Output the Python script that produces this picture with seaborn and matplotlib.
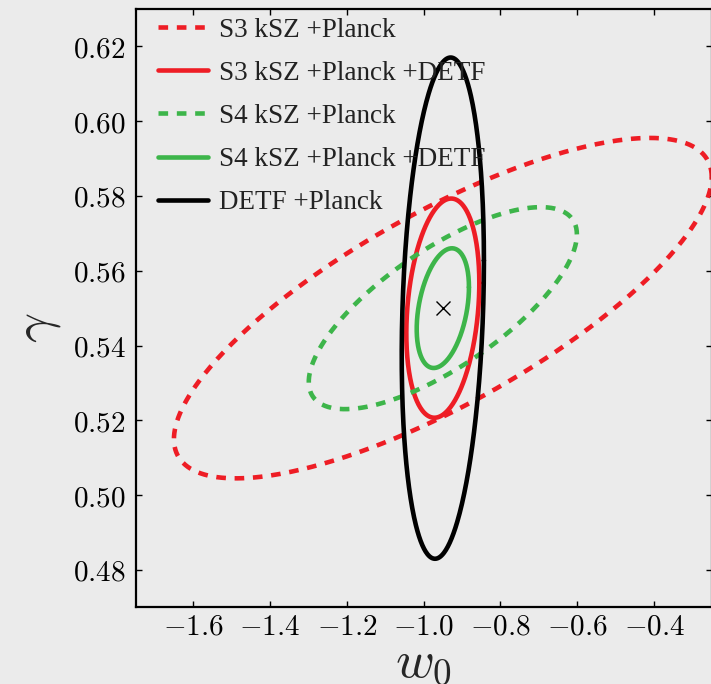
import numpy as np
import pandas as pd
import matplotlib
matplotlib.use("Agg")
import matplotlib.pyplot as plt
from matplotlib.lines import Line2D
from matplotlib.ticker import FuncFormatter, MultipleLocator
import seaborn as sns

# Fiducial model
w0_fid = -0.95
gamma_fid = 0.55

# Forecast contours: half-widths in w0, half-heights in gamma, correlation
labels = ["S3 kSZ +Planck", "S3 kSZ +Planck +DETF", "S4 kSZ +Planck",
          "S4 kSZ +Planck +DETF", "DETF +Planck"]
half_w0 = [0.700, 0.095, 0.349, 0.068, 0.107]
half_gamma = [0.0455, 0.0293, 0.0270, 0.0160, 0.0670]
rho = [0.77, 0.23, 0.73, 0.35, 0.19]

colors = {"S3 kSZ +Planck": "#EE1D25", "S3 kSZ +Planck +DETF": "#EE1D25",
          "S4 kSZ +Planck": "#3DB54A", "S4 kSZ +Planck +DETF": "#3DB54A",
          "DETF +Planck": "#000000"}
dash_pat = (2.1, 1.9)
dashes = {"S3 kSZ +Planck": dash_pat, "S3 kSZ +Planck +DETF": "",
          "S4 kSZ +Planck": dash_pat, "S4 kSZ +Planck +DETF": "",
          "DETF +Planck": ""}

# Build the ellipse outlines
t = np.linspace(0, 2 * np.pi, 400)
frames = []
for lab, a, b, r in zip(labels, half_w0, half_gamma, rho):
    x = w0_fid + a * np.cos(t)
    y = gamma_fid + b * (r * np.cos(t) + np.sqrt(1 - r ** 2) * np.sin(t))
    frames.append(pd.DataFrame({"w0": x, "gamma": y, "label": lab}))
df = pd.concat(frames, ignore_index=True)

sns.set_theme(style="ticks")
bg = "#EBEBEB"
plt.rcParams.update({
    "mathtext.fontset": "cm",
    "axes.formatter.use_mathtext": True,
    "figure.facecolor": bg,
    "axes.facecolor": bg,
})

fig = plt.figure(figsize=(7.11, 6.84), dpi=100)
ax = fig.add_axes([0.1906, 0.112, 0.8104, 0.875])

lw = 3.3
sns.lineplot(data=df, x="w0", y="gamma", hue="label", style="label",
             hue_order=labels, style_order=labels, palette=colors, dashes=dashes,
             sort=False, estimator=None, units="label", lw=lw, ax=ax, legend=False)
ax.plot([w0_fid], [gamma_fid], marker="x", color="black", ms=10, mew=1.0, ls="none")

ax.set_xlim(-1.75, -0.25)
ax.set_ylim(0.47, 0.63)
ax.xaxis.set_major_locator(MultipleLocator(0.2))
ax.yaxis.set_major_locator(MultipleLocator(0.02))
ax.xaxis.set_major_formatter(FuncFormatter(lambda v, p: f"${v:.1f}$"))
ax.yaxis.set_major_formatter(FuncFormatter(lambda v, p: f"${v:.2f}$"))
ax.tick_params(direction="in", length=4, width=1, colors="black",
               top=True, right=True, labelsize=21)
ax.tick_params(axis="x", pad=4)
ax.tick_params(axis="y", pad=7)
for s in ax.spines.values():
    s.set_linewidth(1.6)
    s.set_color("black")

ax.set_xlabel(r"$w_0$", fontsize=38, labelpad=-4)
ax.set_ylabel(r"$\gamma$", fontsize=38)
ax.yaxis.set_label_coords(-0.125, 0.467)

handles = []
for l in labels:
    h = Line2D([], [], color=colors[l], lw=lw)
    if dashes[l]:
        h.set_dashes(dashes[l])
    handles.append(h)
leg = ax.legend(handles, labels, loc="upper left", frameon=False,
                prop={"family": "Liberation Serif", "size": 19.5}, handlelength=1.85,
                handletextpad=0.4, labelspacing=0.67, borderaxespad=0.0,
                borderpad=0.1, bbox_to_anchor=(0.035, 0.99))
for txt in leg.get_texts():
    txt.set_color("#222222")

fig.savefig("out.png", dpi=100, facecolor=bg)
